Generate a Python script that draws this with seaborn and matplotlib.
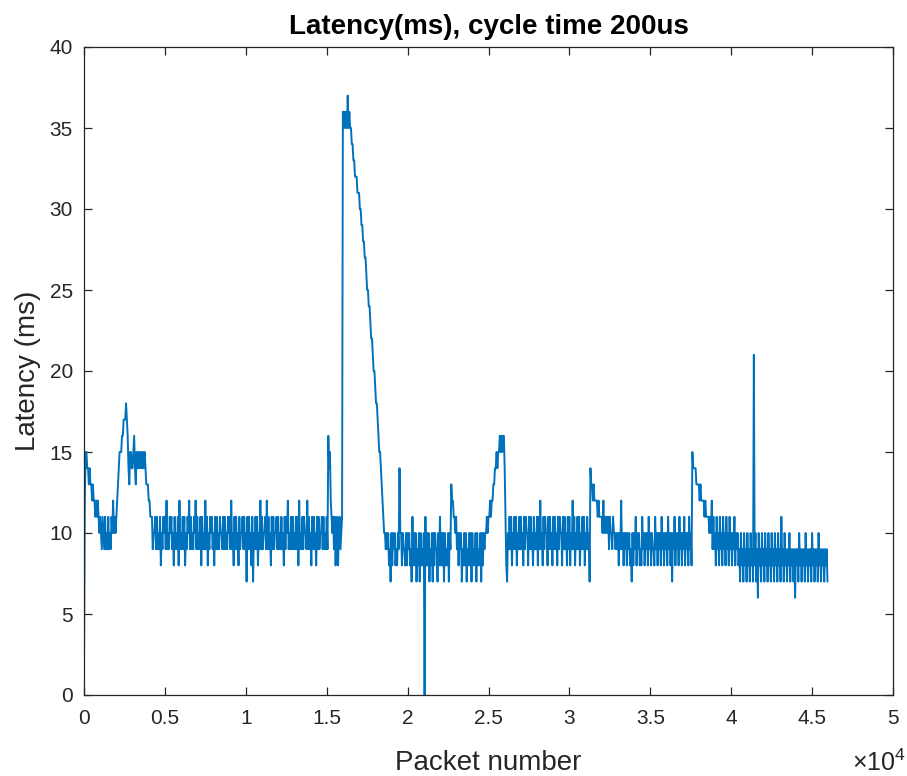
import numpy as np
import pandas as pd
import matplotlib
matplotlib.use("Agg")
import matplotlib.pyplot as plt
import seaborn as sns
from matplotlib.ticker import FixedLocator, FixedFormatter

# ---------------- data (latency in ms, one reading every 50 packets) ----------------
sample_step = 50

seg_start = [2, 12, 15, 15, 14, 14, 13, 14, 13, 13, 12, 13, 12, 12, 11, 12, 11, 12, 11, 10,
             11, 10, 9, 11, 10, 9, 11, 9, 10, 9, 11, 9, 10, 9, 11, 10, 12, 10, 11, 10,
             11, 12, 13, 14, 15, 15, 15, 16, 16, 17, 17, 17, 18, 17, 16, 14, 13, 15, 15, 14,
             14, 15, 16, 14, 13, 15, 14, 15, 14, 15, 14, 15, 14, 15, 14, 15, 14, 13, 13, 13,
             12, 12, 11, 11]

seg_band1 = [11, 9, 10, 10, 11, 9, 11, 9, 10, 9, 11, 8, 10, 9, 11, 10,
             11, 9, 12, 9, 10, 9, 11, 10, 11, 9, 10, 8, 11, 9, 10, 9, 11, 8, 12, 9,
             10, 9, 11, 9, 11, 8, 10, 9, 11, 10, 12, 9, 11, 9, 10, 9, 11, 10, 12, 9,
             11, 9, 10, 9, 11, 8, 11, 9, 10, 9, 12, 9, 11, 8, 10, 9, 11, 10, 11, 9,
             10, 8, 11, 9, 11, 9, 10, 9, 11, 10, 10, 9, 11, 9, 11, 9, 10, 9, 11, 10,
             11, 9, 12, 9, 10, 8, 11, 9, 11, 9, 10, 8, 11, 9, 10, 10, 11, 9, 11, 9,
             10, 7, 11, 9, 11, 9, 10, 8, 11, 7, 10, 9, 11, 9, 11, 8, 10, 9, 12, 9,
             11, 9, 10, 10, 11, 9, 12, 9, 11, 9, 10, 8, 11, 9, 11, 9, 10, 10, 11, 9,
             11, 9, 10, 9, 11, 9, 10, 8, 11, 9, 11, 10, 12, 9, 10, 9, 11, 9, 11, 9,
             10, 9, 11, 9, 11, 8, 12, 9, 10, 9, 11, 9, 11, 10, 10, 9, 12, 9, 11, 9,
             10, 8, 11, 9, 11, 9, 10, 8, 11, 9, 11, 9, 10, 10, 11, 9, 11, 9, 10, 9]

seg_spike16 = [11, 9, 16, 14, 15, 12, 11, 10, 11, 9, 11, 8, 10, 11, 8, 10, 11, 9, 10, 11]

seg_big_peak = [36, 35, 36, 35, 36, 35, 37, 35, 36, 35, 35, 34, 34, 33, 33, 32, 32, 32, 31, 31,
                31, 30, 30, 29, 29, 28, 28, 27, 27, 26, 25, 25, 24, 24, 23, 22, 22, 21, 20, 20,
                19, 18, 18, 17, 16, 15, 15, 14, 13, 12, 11, 10, 10, 9]

seg_band2 = [10, 9, 10, 8, 9, 7,
             10, 8, 10, 9, 10, 8, 9, 8, 10, 9, 14, 10, 10, 8, 10, 9, 9, 8, 10, 8,
             10, 9, 10, 8, 9, 7, 11, 8, 10, 8, 10, 7, 9, 8, 10, 7, 10, 8, 9, 8,
             10, 0, 11, 8, 10, 8, 10, 7, 9, 8, 10, 7, 10, 8, 10, 9, 9, 7, 10, 8,
             11, 8, 10, 8, 10, 7, 10, 8, 9, 8, 10, 7, 10, 9, 13, 12, 12, 11, 11, 10,
             11, 9, 10, 8, 10, 9, 10, 7, 9, 8, 10, 8, 10, 7, 9, 8, 10, 8, 10, 7,
             10, 8, 9, 8, 10, 7, 10, 8, 9, 8, 10, 7, 10, 8, 10, 9]

seg_peak16 = [10, 10, 11, 10, 11, 11, 12, 11, 12, 12, 13, 13, 14, 14, 15, 14, 15, 15, 16, 15,
              16, 15, 16, 16, 14, 11, 8, 7]

seg_band3 = [10, 9, 11, 9, 11, 8, 10, 9, 11, 9, 11, 8, 10, 9, 11, 9,
             11, 9, 10, 8, 11, 9, 11, 10, 10, 8, 11, 9, 11, 9, 10, 8, 11, 9, 10, 9,
             11, 8, 11, 9, 12, 9, 10, 8, 11, 9, 11, 10, 10, 8, 11, 9, 11, 9, 10, 8,
             11, 9, 11, 9, 10, 8, 11, 9, 11, 10, 10, 8, 11, 9, 11, 9, 10, 8, 11, 9,
             11, 8, 10, 9, 12, 9, 11, 8, 10, 9, 11, 9, 11, 8, 10, 9, 11, 9, 11, 8,
             10, 9, 11, 9, 10, 7]

seg_spike14 = [14, 13, 13, 12, 13, 12, 12, 12, 12, 11, 12, 11, 11, 11, 11, 10, 12, 10, 11, 10,
               11, 10, 11, 9, 11, 10, 10, 9, 11, 10, 10, 9, 10, 9, 10, 8, 10, 9, 12, 9,
               10, 8, 10, 9, 10, 8, 10, 9, 10, 8, 9, 7]

seg_band4 = [10, 8, 10, 9, 11, 8, 10, 9, 10, 8, 9, 8, 11, 9, 10, 8, 10, 9, 10, 8,
             11, 9, 10, 8, 10, 9, 9, 8, 11, 9, 10, 8, 10, 9, 10, 8, 11, 9, 10, 8,
             10, 9, 10, 8, 11, 9, 10, 8, 10, 7, 10, 9, 11, 8, 10, 9, 10, 8, 11, 9,
             10, 8, 10, 9, 11, 8, 10, 9, 10, 8, 11, 9, 10, 8]

seg_spike15 = [15, 14, 14, 14, 14, 13, 13, 13, 13, 12, 13, 12, 12, 12, 12, 11, 12, 11, 11, 11,
               11, 10, 11, 10, 12, 9, 11, 9]

seg_band5 = [10, 8, 11, 9, 10, 8, 11, 9, 10, 8, 11, 9, 10, 8, 11, 9, 10, 8, 11, 9,
             10, 8, 10, 9, 11, 8, 10, 9,
             10, 8, 9, 7, 10, 8, 9, 7, 10, 8, 9, 7, 10, 8, 9, 7, 10, 8, 9, 7,
             21, 8, 10, 7, 9, 6, 10, 8, 9, 7, 10, 8, 9, 7, 10, 8, 9, 7, 10, 8,
             9, 7, 10, 8, 9, 7, 10, 8, 9, 7, 10, 8, 9, 7, 11, 8, 9, 7, 10, 8,
             9, 7, 9, 8, 10, 7, 9, 8, 9, 7, 9, 6, 9, 8, 9, 7, 10, 8, 9, 7,
             9, 8, 9, 7, 10, 8, 9, 7, 9, 8, 9, 7, 10, 8, 9, 7, 9, 8, 9, 7,
             10, 8, 9, 7, 9, 8, 9, 7, 9, 8, 9, 7]

latency = (seg_start + seg_band1 + seg_spike16 + seg_big_peak + seg_band2 +
           seg_peak16 + seg_band3 + seg_spike14 + seg_band4 + seg_spike15 + seg_band5)
packet = np.arange(len(latency)) * sample_step

x_ticks = [0, 5000, 10000, 15000, 20000, 25000, 30000, 35000, 40000, 45000, 50000]
x_tick_labels = ["0", "0.5", "1", "1.5", "2", "2.5", "3", "3.5", "4", "4.5", "5"]
y_ticks = [0, 5, 10, 15, 20, 25, 30, 35, 40]
y_tick_labels = ["0", "5", "10", "15", "20", "25", "30", "35", "40"]

title_text = "Latency(ms), cycle time 200us"
x_label = "Packet number"
y_label = "Latency (ms)"
exponent_text = r"$\times\mathregular{10^{4}}$"

# ---------------- style ----------------
sns.set_theme(style="white")
plt.rcParams["font.family"] = ["Liberation Sans", "DejaVu Sans"]
plt.rcParams["mathtext.fontset"] = "custom"
plt.rcParams["mathtext.rm"] = "Liberation Sans"

axis_color = "#262626"
line_color = "#0072BD"

fig = plt.figure(figsize=(9.07, 7.76), dpi=100)
ax = fig.add_axes([84 / 907, 1 - 695 / 776, (893 - 84) / 907, (695 - 47) / 776])

df = pd.DataFrame({"packet": packet, "latency": latency})
sns.lineplot(data=df, x="packet", y="latency", ax=ax, color=line_color,
             linewidth=1.4, estimator=None, sort=False)

ax.set_xlim(0, 50000)
ax.set_ylim(0, 40)
ax.xaxis.set_major_locator(FixedLocator(x_ticks))
ax.xaxis.set_major_formatter(FixedFormatter(x_tick_labels))
ax.yaxis.set_major_locator(FixedLocator(y_ticks))
ax.yaxis.set_major_formatter(FixedFormatter(y_tick_labels))

for sp in ax.spines.values():
    sp.set_visible(True)
    sp.set_color(axis_color)
    sp.set_linewidth(0.9)

ax.tick_params(axis="both", which="major", direction="in", length=6, width=0.9,
               colors=axis_color, labelsize=15, top=True, right=True,
               bottom=True, left=True)
ax.tick_params(axis="x", pad=10)
ax.tick_params(axis="y", pad=8)

ax.set_xlabel(x_label, fontsize=20, color=axis_color, labelpad=16)
ax.set_ylabel(y_label, fontsize=20, color=axis_color, labelpad=6)
ax.set_title(title_text, fontsize=20, fontweight="bold", color="#000000", pad=9)

ax.text(1.016, -0.117, exponent_text, transform=ax.transAxes, ha="right",
        va="baseline", fontsize=18, color=axis_color)

fig.savefig("out.png", dpi=100)
